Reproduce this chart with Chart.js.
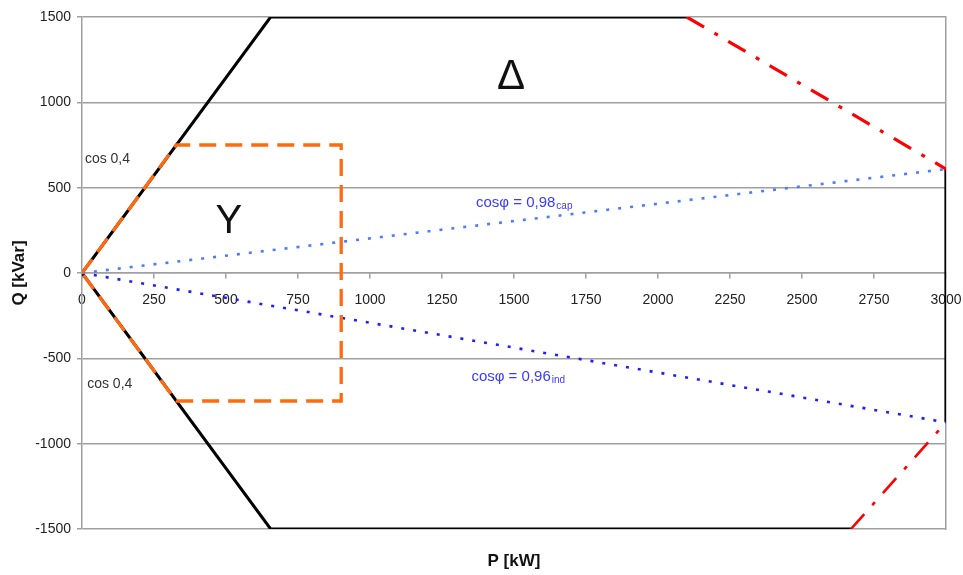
<!DOCTYPE html>
<html><head><meta charset="utf-8">
<script src="https://cdn.jsdelivr.net/npm/chart.js@4.4.1/dist/chart.umd.min.js"></script>
<style>html,body{margin:0;padding:0;background:#fff}</style>
</head><body>
<canvas id="c" width="963" height="575"></canvas>
<script>
// ---- data (P in kW, Q in kVar) ----
const pTicks = [0,250,500,750,1000,1250,1500,1750,2000,2250,2500,2750,3000];
const qTicks = [-1500,-1000,-500,0,500,1000,1500];

const deltaUpperP = [0, 655, 2100];
const deltaUpperQ = [0, 1500, 1500];
const deltaLowerP = [0, 655, 2670];
const deltaLowerQ = [0, -1500, -1500];
const deltaRightP = [3000, 3000];
const deltaRightQ = [609, -875];
const redUpperP = [2100, 3000];
const redUpperQ = [1500, 609];
const redLowerP = [2670, 3000];
const redLowerQ = [-1500, -875];
const starP = [0, 327, 900, 900, 327, 0];
const starQ = [0, 750, 750, -750, -750, 0];
const capP = [0, 3000];
const capQ = [0, 609];
const indP = [0, 3000];
const indQ = [0, -875];

// annotation texts and their positions in data units
const notes = [
  {text:'Δ', p:1490, q:1145, font:'42px "Liberation Sans"', color:'#111', align:'center'},
  {text:'Y', p:510, q:300, font:'40px "Liberation Sans"', color:'#111', align:'center'},
  {text:'cos 0,4', p:10, q:665, font:'14px "Liberation Sans"', color:'#333', align:'left'},
  {text:'cos 0,4', p:18, q:-650, font:'14px "Liberation Sans"', color:'#333', align:'left'},
  {text:'cosφ = 0,98', sub:'cap', p:1368, q:412, font:'15px "Liberation Sans"', color:'#3a3aff', align:'left'},
  {text:'cosφ = 0,96', sub:'ind', p:1352, q:-607, font:'15px "Liberation Sans"', color:'#3a3aff', align:'left'}
];

const pts = (P,Q) => P.map((p,i)=>({x:p,y:Q[i]}));

const base = {showLine:true, pointRadius:0, fill:false, tension:0, borderCapStyle:'butt', borderJoinStyle:'miter'};
const datasets = [
  Object.assign({}, base, {data:pts(starP,starQ), borderColor:'#ff6a10', borderWidth:3.3, borderDash:[17,9], order:1}),
  Object.assign({}, base, {data:pts(capP,capQ), borderColor:'#4d7bff', borderWidth:2.6, borderDash:[3,9], order:2}),
  Object.assign({}, base, {data:pts(indP,indQ), borderColor:'#1e1eff', borderWidth:2.6, borderDash:[3,9], order:2}),
  Object.assign({}, base, {data:pts(redUpperP,redUpperQ), borderColor:'#ff0000', borderWidth:3.2, borderDash:[20,12,4,12], order:3}),
  Object.assign({}, base, {data:pts(redLowerP,redLowerQ), borderColor:'#ff0000', borderWidth:2.6, borderDash:[20,12,4,12], order:3}),
  Object.assign({}, base, {data:pts(deltaUpperP,deltaUpperQ), borderColor:'#000', borderWidth:3, order:4}),
  Object.assign({}, base, {data:pts(deltaLowerP,deltaLowerQ), borderColor:'#000', borderWidth:3, order:4}),
  Object.assign({}, base, {data:pts(deltaRightP,deltaRightQ), borderColor:'#000', borderWidth:3.2, order:4})
];

const notesPlugin = {
  id:'notes',
  afterDatasetsDraw(chart){
    const ctx = chart.ctx, xs = chart.scales.x, ys = chart.scales.y;
    ctx.save();
    notes.forEach(n=>{
      const x = xs.getPixelForValue(n.p), y = ys.getPixelForValue(n.q);
      ctx.font = n.font; ctx.fillStyle = n.color; ctx.textAlign = n.align; ctx.textBaseline = 'middle';
      ctx.fillText(n.text, x, y);
      if (n.sub){
        const w = ctx.measureText(n.text).width;
        ctx.font = '10px "Liberation Sans"'; ctx.textAlign = 'left';
        ctx.fillText(n.sub, x + w + 1, y + 4);
      }
    });
    ctx.restore();
  }
};

const gridGray = '#a0a0a0';
const tickFont = {family:'"Liberation Sans", Arial, sans-serif', size:14};
const titleFont = {family:'"Liberation Sans", Arial, sans-serif', size:17, weight:'bold'};
const noPad = s => { s.paddingLeft = 0; s.paddingRight = 0; };
const noPadV = s => { s.paddingTop = 0; s.paddingBottom = 0; };

new Chart(document.getElementById('c'), {
  type:'scatter',
  data:{datasets},
  plugins:[notesPlugin],
  options:{
    responsive:false, animation:false, devicePixelRatio:1,
    layout:{padding:{top:17, left:0, right:0, bottom:0}},
    plugins:{legend:{display:false}, tooltip:{enabled:false}},
    scales:{
      x:{type:'linear', min:0, max:3000, position:{y:0},
         afterBuildTicks:s=>{s.ticks = pTicks.map(v=>({value:v}));},
         afterFit:noPad,
         ticks:{color:'#222', font:tickFont, padding:14, maxRotation:0, autoSkip:false, callback:v=>String(v)},
         grid:{drawOnChartArea:false, drawTicks:true, tickLength:5, color:gridGray, lineWidth:1.5},
         border:{color:gridGray, width:1.5}},
      x2:{type:'linear', position:'bottom', min:0, max:3000, display:true,
         afterFit:s=>{s.height = 46; noPad(s);},
         ticks:{display:false}, grid:{display:false, drawTicks:false}, border:{display:false},
         title:{display:true, text:'P [kW]', color:'#111', font:titleFont, padding:{top:0,bottom:3}}},
      y:{type:'linear', min:-1500, max:1500, position:'left',
         afterBuildTicks:s=>{s.ticks = qTicks.map(v=>({value:v}));},
         afterFit:s=>{s.width = 82; noPadV(s);},
         ticks:{color:'#222', font:tickFont, padding:6, callback:v=>String(v)},
         grid:{color:gridGray, lineWidth:1.5, tickLength:5, drawTicks:true},
         border:{color:gridGray, width:1.5},
         title:{display:true, text:'Q [kVar]', color:'#111', font:titleFont, padding:{top:9,bottom:0}}},
      y2:{type:'linear', min:-1500, max:1500, position:'right',
         afterFit:s=>{s.width = 17; noPadV(s);},
         ticks:{display:false}, grid:{display:false, drawTicks:false},
         border:{display:true, color:gridGray, width:1.5}}
    }
  }
});
</script>
</body></html>
